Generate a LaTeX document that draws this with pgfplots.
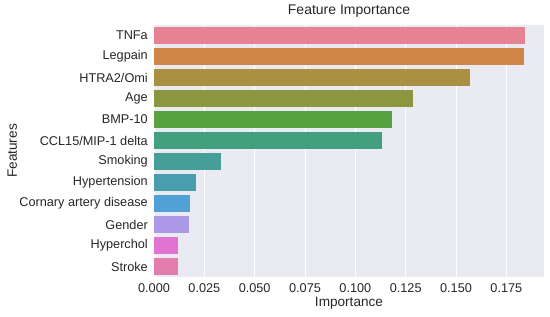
\documentclass[border=0pt]{standalone}
\usepackage{fontspec}
\setmainfont{Liberation Sans}
\usepackage{pgfplots}
\pgfplotsset{compat=1.18}
\definecolor{bgc}{RGB}{234,234,242}
\definecolor{txt}{RGB}{38,38,38}
\definecolor{c1}{RGB}{230,130,148}
\definecolor{c2}{RGB}{208,133,73}
\definecolor{c3}{RGB}{170,144,67}
\definecolor{c4}{RGB}{140,150,63}
\definecolor{c5}{RGB}{88,161,65}
\definecolor{c6}{RGB}{67,160,127}
\definecolor{c7}{RGB}{69,158,151}
\definecolor{c8}{RGB}{73,158,174}
\definecolor{c9}{RGB}{81,160,214}
\definecolor{c10}{RGB}{171,153,231}
\definecolor{c11}{RGB}{226,115,208}
\definecolor{c12}{RGB}{229,124,174}

\begin{document}
\begin{tikzpicture}
\useasboundingbox (0,0) rectangle (550bp,317bp);
\begin{axis}[
  at={(154bp,40bp)}, anchor=south west,
  scale only axis, width=390bp, height=252bp,
  xbar, bar width=16.8bp, bar shift=0pt,
  xmin=0, xmax=0.1937,
  ymin=-0.5, ymax=11.5, y dir=reverse,
  axis background/.style={fill=bgc},
  axis line style={draw=none},
  major tick length=0pt,
  xmajorgrids, grid style={white, line width=1bp},
  xtick={0,0.025,0.05,0.075,0.1,0.125,0.15,0.175},
  ytick={0,...,11},
  yticklabels={TNFa,Legpain,HTRA2/Omi,Age,BMP-10,CCL15/MIP-1 delta,Smoking,Hypertension,Cornary artery disease,Gender,Hyperchol,Stroke},
  /pgf/number format/assume math mode=true,
  xticklabel={\pgfmathprintnumber[fixed,fixed zerofill,precision=3]{\tick}},
  scaled x ticks=false,
  ticklabel style={font=\fontsize{12.7bp}{15bp}\selectfont, text=txt},
  yticklabel style={anchor=east, inner sep=0pt, xshift=-6bp},
  xticklabel style={anchor=base, inner sep=0pt, yshift=-15.5bp},
  title={Feature Importance},
  title style={at={(axis description cs:0.5,1.0198)}, anchor=base, inner sep=0pt, font=\fontsize{14bp}{17bp}\selectfont, text=txt},
  xlabel={Importance},
  xlabel style={at={(axis description cs:0.5,-0.119)}, anchor=base, inner sep=0pt, font=\fontsize{13.6bp}{16bp}\selectfont, text=txt},
  ylabel={Features},
  ylabel style={at={(axis description cs:-0.3513,0.5)}, anchor=base, inner sep=0pt, font=\fontsize{13.6bp}{16bp}\selectfont, text=txt},
  every axis plot/.append style={draw=none},
]
\addplot[fill=c1] coordinates {(0.1845,0)};
\addplot[fill=c2] coordinates {(0.1838,1)};
\addplot[fill=c3] coordinates {(0.1571,2)};
\addplot[fill=c4] coordinates {(0.1286,3)};
\addplot[fill=c5] coordinates {(0.1184,4)};
\addplot[fill=c6] coordinates {(0.1131,5)};
\addplot[fill=c7] coordinates {(0.0331,6)};
\addplot[fill=c8] coordinates {(0.0210,7)};
\addplot[fill=c9] coordinates {(0.0179,8)};
\addplot[fill=c10] coordinates {(0.0175,9)};
\addplot[fill=c11] coordinates {(0.0121,10)};
\addplot[fill=c12] coordinates {(0.0117,11)};
\end{axis}
\end{tikzpicture}
\end{document}
